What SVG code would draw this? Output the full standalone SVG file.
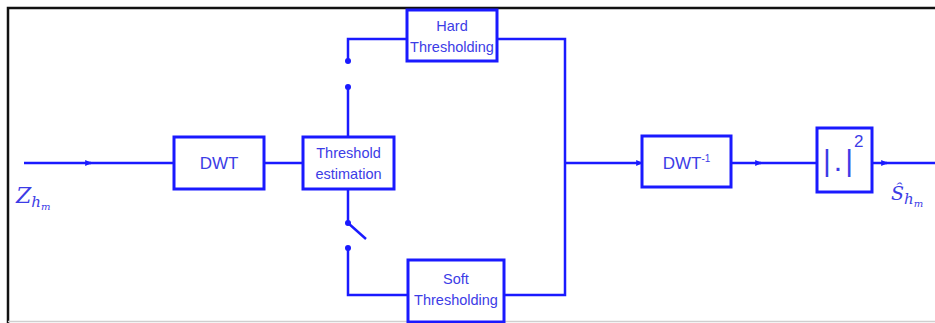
<svg xmlns="http://www.w3.org/2000/svg" width="935" height="323" viewBox="0 0 935 323">
<defs>
<style>
.box{fill:#fff;stroke:#1a1aff;stroke-width:3}
.ln{fill:none;stroke:#1a1aff;stroke-width:2.5}
.t{font-family:"Liberation Sans",Arial,sans-serif;font-size:14.5px;fill:#3c3ce6;text-anchor:middle}
.big{font-size:17px}
.m{font-family:"DejaVu Serif","Liberation Serif",serif;font-style:italic;fill:#3c3ce6}
.dot{fill:#1a1aff}
.abs{font-family:"Liberation Sans",Arial,sans-serif;font-size:30px;fill:#3c3ce6}
</style>
<marker id="ar" viewBox="0 0 6 6" refX="5" refY="3" markerWidth="7" markerHeight="7" markerUnits="userSpaceOnUse" orient="auto">
<path d="M0,0.5 L6,3 L0,5.5 z" fill="#1a1aff"/>
</marker>
</defs>
<rect x="0" y="0" width="935" height="323" fill="#fff"/>
<path d="M8,323 L8,8 L935,8" fill="none" stroke="#111" stroke-width="2.5"/>
<line x1="8" y1="321.5" x2="935" y2="321.5" stroke="#cfcfcf" stroke-width="1.5"/>
<g id="connectors">
<line class="ln" x1="24" y1="163" x2="91" y2="163" marker-end="url(#ar)"/>
<line class="ln" x1="88" y1="163" x2="174" y2="163"/>
<line class="ln" x1="264" y1="163" x2="303" y2="163"/>
<line class="ln" x1="348" y1="137" x2="348" y2="87"/>
<circle class="dot" cx="348" cy="87" r="3"/>
<circle class="dot" cx="348" cy="61" r="3"/>
<polyline class="ln" points="348,61 348,39 407,39"/>
<line class="ln" x1="348" y1="189" x2="348" y2="223"/>
<circle class="dot" cx="348" cy="223" r="3"/>
<line class="ln" x1="348" y1="223" x2="366" y2="239"/>
<circle class="dot" cx="348" cy="248" r="3"/>
<polyline class="ln" points="348,248 348,295 408,295"/>
<polyline class="ln" points="497,39 565,39 565,295 504,295"/>
<line class="ln" x1="565" y1="163" x2="642" y2="163" marker-end="url(#ar)"/>
<line class="ln" x1="731" y1="163" x2="761" y2="163" marker-end="url(#ar)"/>
<line class="ln" x1="758" y1="163" x2="817" y2="163"/>
<line class="ln" x1="872" y1="163" x2="887" y2="163" marker-end="url(#ar)"/>
<line class="ln" x1="884" y1="163" x2="935" y2="163"/>
</g>
<g id="dwt">
<rect class="box" x="174" y="137" width="90" height="52"/>
<text class="t big" x="219" y="169">DWT</text>
</g>
<g id="threshold-estimation">
<rect class="box" x="303" y="137" width="91" height="52"/>
<text class="t" x="348.5" y="158">Threshold</text>
<text class="t" x="348.5" y="179">estimation</text>
</g>
<g id="hard-thresholding">
<rect class="box" x="407" y="10" width="90" height="51"/>
<text class="t" x="452" y="31">Hard</text>
<text class="t" x="452" y="52">Thresholding</text>
</g>
<g id="soft-thresholding">
<rect class="box" x="408" y="260" width="96" height="62"/>
<text class="t" x="456" y="284">Soft</text>
<text class="t" x="456" y="305">Thresholding</text>
</g>
<g id="idwt">
<rect class="box" x="642" y="136" width="89" height="51"/>
<text class="t big" x="686.5" y="169">DWT<tspan style="font-size:10px" dy="-7">-1</tspan></text>
</g>
<g id="abs-square">
<rect class="box" x="817" y="128" width="55" height="64"/>
<text class="abs" x="823" y="171">|<tspan dx="3">.</tspan><tspan dx="3">|</tspan><tspan style="font-size:17px" dx="1" dy="-24">2</tspan></text>
</g>
<g id="input-label">
<text class="m" x="16" y="203" font-size="22">Z<tspan font-size="15" dy="4">h</tspan><tspan font-size="10" dy="3">m</tspan></text>
</g>
<g id="output-label">
<text class="m" x="891" y="200" font-size="19">Ŝ<tspan font-size="15" dy="4">h</tspan><tspan font-size="10" dy="3">m</tspan></text>
</g>
</svg>
